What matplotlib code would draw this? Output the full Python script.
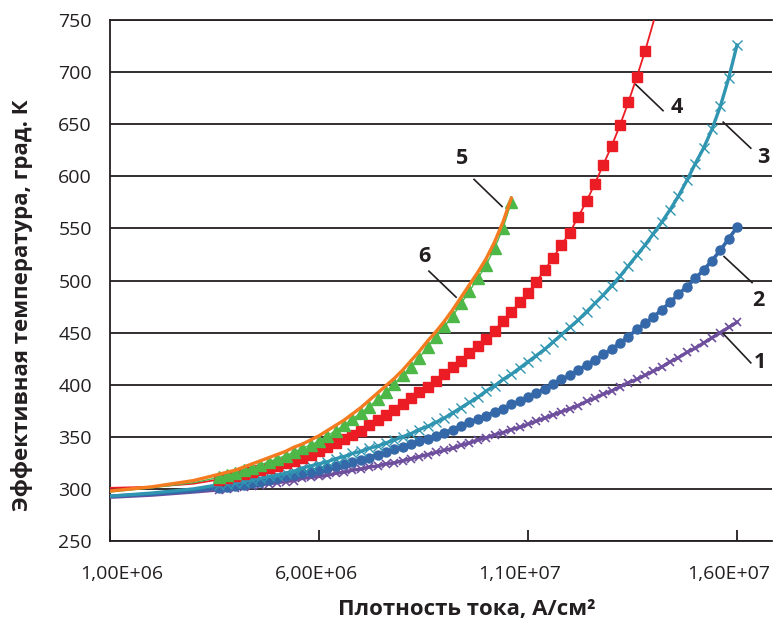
import numpy as np
import matplotlib
matplotlib.use("Agg")
import matplotlib.pyplot as plt
from matplotlib.transforms import ScaledTranslation

plt.rcParams['font.family'] = ['Open Sans', 'DejaVu Sans']

# плотность тока, 10^6 А/см2 (общая сетка для всех кривых)
tok = [1.0, 2.0, 3.0,
       3.6, 3.8, 4.0,
       4.2, 4.4, 4.6, 4.8, 5.0,
       5.2, 5.4, 5.6, 5.8, 6.0,
       6.2, 6.4, 6.6, 6.8, 7.0,
       7.2, 7.4, 7.6, 7.8, 8.0,
       8.2, 8.4, 8.6, 8.8, 9.0,
       9.2, 9.4, 9.6, 9.8, 10.0,
       10.2, 10.4, 10.6, 10.8, 11.0,
       11.2, 11.4, 11.6, 11.8, 12.0,
       12.2, 12.4, 12.6, 12.8, 13.0,
       13.2, 13.4, 13.6, 13.8, 14.0,
       14.2, 14.4, 14.6, 14.8, 15.0,
       15.2, 15.4, 15.6, 15.8, 16.0]

# эффективная температура, К
temp_1 = [292, 294, 297,
          299, 300, 301,
          302, 303, 304, 305, 306,
          307, 308, 310, 311, 312,
          313, 315, 316, 318, 319,
          321, 322, 324, 325, 327,
          329, 331, 333, 335, 337,
          339, 342, 344, 347, 349,
          352, 354, 357, 359, 362,
          365, 368, 371, 374, 377,
          380, 384, 387, 391, 394,
          398, 402, 405, 409, 413,
          417, 422, 426, 431, 435,
          440, 445, 450, 455, 460]

temp_2 = [293, 295, 298,
          301, 302, 303,
          304, 306, 307, 309, 310,
          312, 313, 315, 316, 318,
          320, 322, 324, 326, 328,
          330, 333, 335, 338, 340,
          343, 346, 348, 351, 354,
          357, 360, 364, 367, 370,
          374, 377, 381, 384, 388,
          392, 396, 401, 405, 409,
          414, 419, 424, 429, 434,
          440, 446, 453, 459, 465,
          472, 479, 487, 494, 502,
          510, 519, 529, 540, 551]

temp_3 = [293, 296, 300,
          304, 305, 306,
          307, 309, 310, 312, 313,
          315, 317, 320, 322, 324,
          326, 329, 331, 334, 336,
          339, 341, 344, 347, 350,
          353, 357, 360, 364, 368,
          373, 378, 383, 388, 394,
          399, 405, 410, 416, 422,
          428, 434, 441, 448, 455,
          462, 470, 478, 486, 495,
          504, 514, 524, 534, 545,
          556, 568, 581, 596, 612,
          627, 645, 667, 694, 726]

temp_4 = [301, 302, 305,
          309, 310, 312,
          314, 316, 318, 320, 322,
          325, 327, 330, 333, 336,
          340, 344, 348, 352, 356,
          361, 366, 371, 376, 381,
          387, 393, 398, 404, 410,
          417, 423, 430, 437, 444,
          452, 461, 470, 479, 488,
          499, 510, 522, 534, 546,
          561, 576, 593, 611, 629,
          649, 671, 695, 720, 748,
          778]

temp_5 = [297, 301, 306,
          311, 313, 315,
          318, 320, 323, 326, 329,
          332, 335, 339, 342, 346,
          351, 356, 361, 367, 373,
          379, 386, 393, 401, 409,
          417, 426, 436, 446, 456,
          466, 478, 490, 502, 515,
          531, 550, 575]

temp_6 = [298, 302, 308,
          314, 316, 318,
          321, 324, 327, 330, 333,
          336, 340, 343, 347, 351,
          356, 361, 366, 372, 378,
          385, 392, 399, 406, 414,
          423, 432, 442, 451, 461,
          472, 484, 496, 508, 521,
          537, 556, 579]

tiki_x = [1e6, 6e6, 11e6, 16e6]
tiki_x_text = ['1,00E+06', '6,00E+06', '1,10E+07', '1,60E+07']

# номер кривой: (x текста, y текста, выноска x0, y0, x1, y1)
podpisi = {
    '1': (16.55, 421, 15.67, 449, 16.33, 421),
    '2': (16.51, 481, 15.69, 523, 16.36, 498),
    '3': (16.62, 618, 15.67, 652, 16.33, 627),
    '4': (14.56, 666, 13.58, 688, 14.23, 663),
    '5': (9.43, 617, 9.71, 597, 10.38, 571),
    '6': (8.51, 523, 8.63, 509, 9.28, 484),
}

fig = plt.figure(figsize=(7.8, 6.26), dpi=100)
ax = fig.add_axes([110 / 780, 1 - 541 / 626, 662 / 780, 521 / 626])

x = np.array(tok) * 1e6

def kriv(temp, color, lw, zorder, **kw):
    n = len(temp)
    ax.plot(x[:n], temp, color=color, lw=lw, zorder=zorder, **kw)

kriv(temp_1, '#6e4f9e', 2.4, 3, marker='x', ms=6, mew=1.2, markevery=slice(3, None))
kriv(temp_2, '#3568a8', 2.6, 4, marker='o', ms=6.5, markevery=slice(3, None))
kriv(temp_3, '#2f95b1', 2.4, 5, marker='x', ms=7, mew=1.0, markevery=slice(3, None))
kriv(temp_4, '#ec1c24', 1.3, 6, marker='s', ms=6.5, markevery=slice(3, len(temp_4) - 2))
kriv(temp_5, '#4db848', 1.0, 7, marker='^', ms=8, markevery=slice(3, None))
kriv(temp_6, '#f47b20', 2.4, 8)

for nomer, (tx, ty, x0, y0, x1, y1) in podpisi.items():
    ax.plot([x0 * 1e6, x1 * 1e6], [y0, y1], color='#231f20', lw=1.2, clip_on=False, zorder=9)
    ax.text(tx * 1e6, ty, nomer, ha='center', va='center', fontsize=15.5,
            fontweight='bold', color='#231f20', zorder=10)

ax.set_xlim(1.0e6, 1.0e6 + 662 / 41.8 * 1e6)
ax.set_ylim(250, 750)
ax.set_yticks(range(250, 751, 50))
ax.set_xticks(tiki_x)
ax.set_xticklabels(tiki_x_text)

ax.yaxis.grid(True, color='#231f20', lw=1.3)
ax.set_axisbelow(True)
ax.spines['right'].set_visible(False)
for s in ['left', 'bottom', 'top']:
    ax.spines[s].set_color('#231f20')
    ax.spines[s].set_linewidth(1.3)

ax.tick_params(axis='y', length=0, pad=13, labelsize=14, labelcolor='#231f20')
ax.tick_params(axis='x', direction='in', length=8, width=1.3, pad=17,
               labelsize=14, labelcolor='#231f20', color='#231f20')

# подписи оси X в Excel чуть смещены относительно делений
for lab, dx in zip(ax.get_xticklabels(), [12, -2, -8, -8]):
    lab.set_transform(lab.get_transform() + ScaledTranslation(dx / 100, 0, fig.dpi_scale_trans))

fig.text(467 / 780, 1 - 609 / 626, 'Плотность тока, А/см²', ha='center', va='center',
         fontsize=16, fontweight='bold', color='#231f20')
fig.text(22 / 780, 1 - 305 / 626, 'Эффективная температура, град. К', ha='center',
         va='center', rotation=90, fontsize=16, fontweight='bold', color='#231f20')

fig.savefig('out.png', dpi=100)
